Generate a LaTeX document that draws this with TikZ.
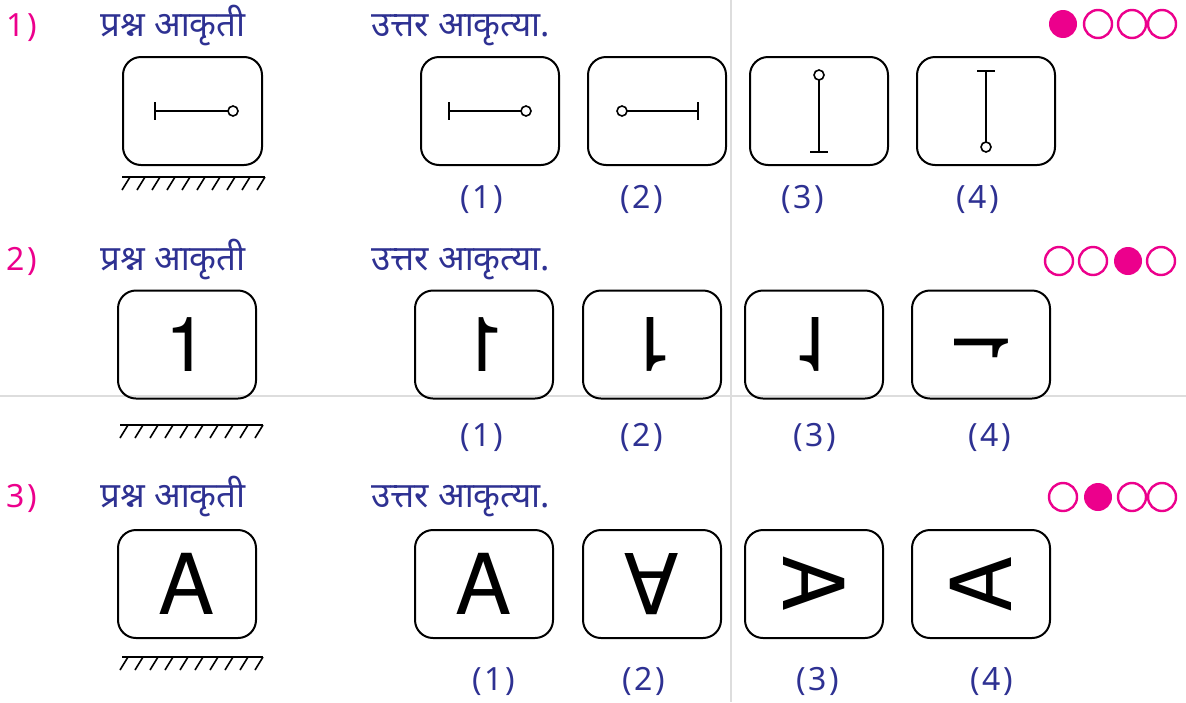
\documentclass[tikz,border=0pt]{standalone}
\usepackage{fontspec}
\usepackage{graphicx}
\setmainfont{Noto Sans}
\newfontfamily\devfont[Script=Devanagari]{Noto Sans}
\newfontfamily\glyphfont{TeX Gyre Heros}
\newfontfamily\numfont[LetterSpace=8]{Noto Sans}
\definecolor{qblue}{HTML}{2E3192}
\definecolor{qpink}{HTML}{EC008C}
\definecolor{rulegrey}{HTML}{DDDDDD}
\tikzset{
  qbox/.style={draw,line width=1pt,rounded corners=9pt,minimum width=69pt,
    minimum height=54pt,inner sep=0pt},
  headtxt/.style={anchor=base west,inner sep=0pt,text=qblue,font=\devfont\fontsize{17.5}{19}\selectfont},
  qnum/.style={anchor=base west,inner sep=0pt,text=qpink,font=\numfont\fontsize{16}{18}\selectfont},
  lbl/.style={anchor=base,inner sep=0pt,text=qblue,font=\numfont\fontsize{16}{18}\selectfont},
  pinline/.style={line width=0.8pt},
  dotfull/.style={fill=qpink},
  dotring/.style={draw=qpink,line width=1.2pt}
}
\newcommand{\onefont}{\glyphfont\fontsize{38}{40}\selectfont}
\newcommand{\afont}{\glyphfont\fontsize{42}{44}\selectfont}
\begin{document}
\begin{tikzpicture}[x=0.5pt,y=-0.5pt]
  \useasboundingbox (0,0) rectangle (1186,702);
  % grey rules
  \draw[rulegrey,line width=0.6pt] (731,0) -- (731,702);
  \draw[rulegrey,line width=0.6pt] (0,396) -- (1186,396);

  % ---- question 1
  \node[qnum] (n1) at (6,36) {1)};
  \node[headtxt] (h1a) at (100,36) {प्रश्न आकृती};
  \node[headtxt] (h1b) at (371,36) {उत्तर आकृत्या.};
  \node[qbox,minimum width=69.5pt] (q1) at (192.5,111) {};
  \node[qbox] (o11) at (490,111) {};
  \node[qbox] (o12) at (657,111) {};
  \node[qbox] (o13) at (819,111) {};
  \node[qbox] (o14) at (986,111) {};
  % pins
  \draw[pinline] (155,102) -- (155,120);
  \draw[pinline] (155,111) -- (228,111);
  \draw[pinline] (233,111) circle[radius=2.5pt];
  \draw[pinline] (449,102) -- (449,120);
  \draw[pinline] (449,111) -- (521,111);
  \draw[pinline] (526,111) circle[radius=2.5pt];
  \draw[pinline] (622,111) circle[radius=2.5pt];
  \draw[pinline] (627,111) -- (698,111);
  \draw[pinline] (698,102) -- (698,120);
  \draw[pinline] (819,75) circle[radius=2.5pt];
  \draw[pinline] (819,80) -- (819,152);
  \draw[pinline] (810,152) -- (828,152);
  \draw[pinline] (977,71) -- (995,71);
  \draw[pinline] (986,71) -- (986,142);
  \draw[pinline] (986,147) circle[radius=2.5pt];
  % ground
  \draw[pinline] (122,177) -- (265,177);
  \foreach \i in {0,...,9}
    \draw[pinline] ({130+15*\i},177) -- ++(-8,13);
  \foreach \lx/\k in {482/1,642/2,803/3,978/4}
    \node[lbl] (l1\k) at (\lx,208) {(\k)};
  \foreach \cx/\s in {1063/dotfull,1098/dotring,1132/dotring,1162/dotring}
    \path[\s] (\cx,24) circle[radius=7pt];

  % ---- question 2
  \node[qnum] (n2) at (6,270) {2)};
  \node[headtxt] (h2a) at (100,270) {प्रश्न आकृती};
  \node[headtxt] (h2b) at (371,270) {उत्तर आकृत्या.};
  \node[qbox,font=\onefont] (q2) at (187,344.5) {1};
  \node[qbox,font=\onefont] (o21) at (484,344.5) {\reflectbox{1}};
  \node[qbox,font=\onefont] (o22) at (652,344.5) {\rotatebox{180}{1}};
  \node[qbox,font=\onefont] (o23) at (814,344.5) {\scalebox{1}[-1]{1}};
  \node[qbox,font=\onefont] (o24) at (981,344.5) {\reflectbox{\rotatebox{90}{1}}};
  \draw[pinline] (120,425) -- (263,425);
  \foreach \i in {0,...,9}
    \draw[pinline] ({128+15*\i},425) -- ++(-8,13);
  \foreach \lx/\k in {482/1,642/2,815/3,990/4}
    \node[lbl] (l2\k) at (\lx,446) {(\k)};
  \foreach \cx/\s in {1059/dotring,1093/dotring,1128/dotfull,1161/dotring}
    \path[\s] (\cx,261) circle[radius=7pt];

  % ---- question 3
  \node[qnum] (n3) at (6,507) {3)};
  \node[headtxt] (h3a) at (100,507) {प्रश्न आकृती};
  \node[headtxt] (h3b) at (371,507) {उत्तर आकृत्या.};
  \node[qbox,font=\afont] (q3) at (187,584) {A};
  \node[qbox,font=\afont] (o31) at (484,584) {A};
  \node[qbox,font=\afont] (o32) at (652,584) {\scalebox{1}[-1]{A}};
  \node[qbox,font=\afont] (o33) at (814,584) {\rotatebox{-90}{A}};
  \node[qbox,font=\afont] (o34) at (981,584) {\rotatebox{90}{A}};
  \draw[pinline] (122,657) -- (263,657);
  \foreach \i in {0,...,9}
    \draw[pinline] ({128+15*\i},657) -- ++(-8,13);
  \foreach \lx/\k in {494/1,644/2,818/3,992/4}
    \node[lbl] (l3\k) at (\lx,690) {(\k)};
  \foreach \cx/\s in {1063/dotring,1098/dotfull,1132/dotring,1162/dotring}
    \path[\s] (\cx,497) circle[radius=7pt];
\end{tikzpicture}
\end{document}
